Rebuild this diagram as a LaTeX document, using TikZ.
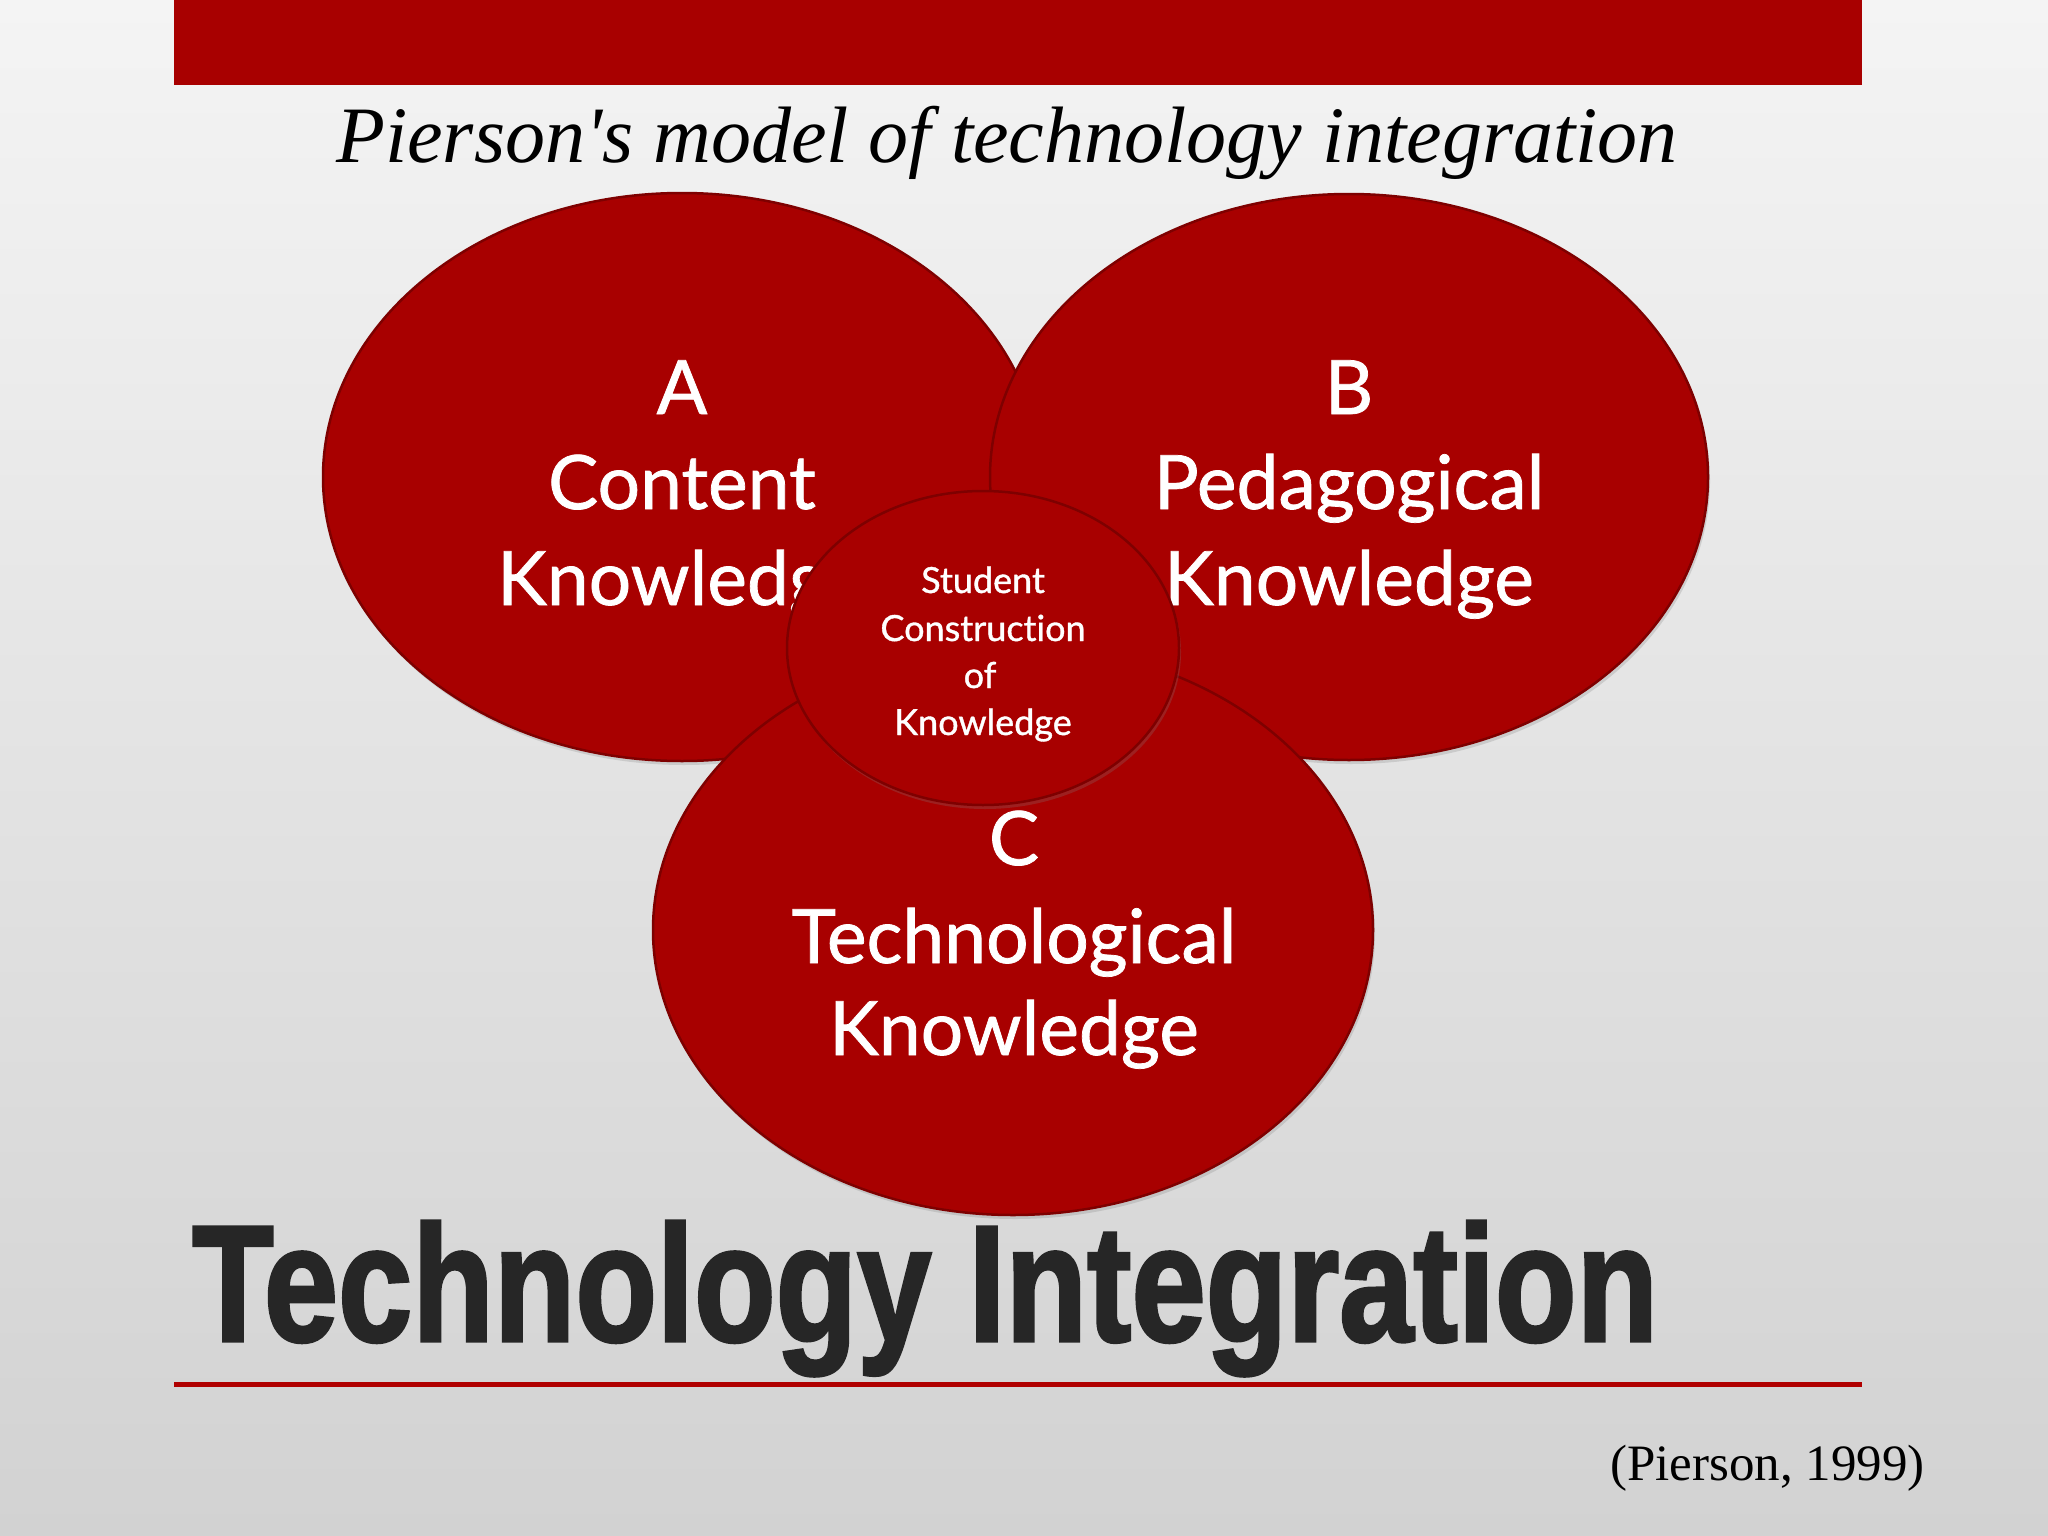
\documentclass[tikz,border=0pt]{standalone}
\usepackage{fontspec}
\usepackage{graphicx}
\usetikzlibrary{shapes.geometric,shadows}
\setmainfont{Liberation Serif}
\newfontfamily\titlefont[Ligatures=TeXOff]{Liberation Serif}
\newfontfamily\lato[Ligatures=NoCommon, FakeBold=1]{Lato}
\newfontfamily\heavy[FakeBold=2]{Liberation Sans}
\definecolor{bar}{HTML}{A80000}
\definecolor{ell}{HTML}{A80000}
\definecolor{ellline}{HTML}{7E0000}
\definecolor{ink}{HTML}{262626}
\definecolor{rulered}{HTML}{B00000}
\definecolor{bgtop}{HTML}{F4F4F4}
\definecolor{bgbot}{HTML}{D2D2D2}
\tikzset{
  venn/.style={ellipse, draw=ellline, line width=2.5pt, fill=ell, inner sep=0pt,
    drop shadow={opacity=0.25, shadow xshift=2pt, shadow yshift=-4pt}},
  bigtxt/.style={text=white, font=\lato\fontsize{75}{90}\selectfont, anchor=base, inner sep=0pt},
  smalltxt/.style={text=white, font=\lato\fontsize{36}{44}\selectfont, anchor=base, inner sep=0pt}
}
\begin{document}
\begin{tikzpicture}[x=1pt,y=-1pt]
\fill[top color=bgtop, bottom color=bgbot] (0,0) rectangle (2048,1536);
\useasboundingbox (0,0) rectangle (2048,1536);
% top bar
\fill[bar] (174,0) rectangle (1862,85);
% title
\node[font=\titlefont\itshape\fontsize{80}{96}\selectfont, anchor=base, inner sep=0pt] (title) at (1007,163) {Pierson's model of technology integration};
% ellipse A
\node[venn, minimum width=718pt, minimum height=568pt] (A) at (682,477) {};
\node[bigtxt] (A1) at (682,414) {A};
\node[bigtxt] (A2) at (682,509) {Content};
\node[bigtxt] (A3) at (682,605) {Knowledge};
% ellipse B
\node[venn, minimum width=718pt, minimum height=566pt] (B) at (1349,477) {};
\node[bigtxt] (B1) at (1349,414) {B};
\node[bigtxt] (B2) at (1349,509) {Pedagogical};
\node[bigtxt] (B3) at (1349,605) {Knowledge};
% ellipse C
\node[venn, minimum width=720pt, minimum height=570pt] (C) at (1013,930) {};
\node[bigtxt] (C1) at (1014,865) {C};
\node[bigtxt] (C2) at (1014,963) {Technological};
\node[bigtxt] (C3) at (1014,1055) {Knowledge};
% center ellipse
\node[venn, minimum width=392pt, minimum height=314pt] (S) at (983,648) {};
\node[smalltxt] (S1) at (983,593) {Student};
\node[smalltxt] (S2) at (983,641) {Construction};
\node[smalltxt] (S3) at (980,688) {of};
\node[smalltxt] (S4) at (983,735) {Knowledge};
% bottom title
\node[anchor=base west, inner sep=0pt, text=ink] (ti) at (192,1341) {\resizebox{1465pt}{120pt}{\heavy\bfseries Technology Integration}};
% rule
\fill[rulered] (174,1382) rectangle (1862,1387);
% citation
\node[anchor=base west, inner sep=0pt, font=\fontsize{51}{60}\selectfont] (cite) at (1610,1480) {(Pierson, 1999)};
\end{tikzpicture}
\end{document}
